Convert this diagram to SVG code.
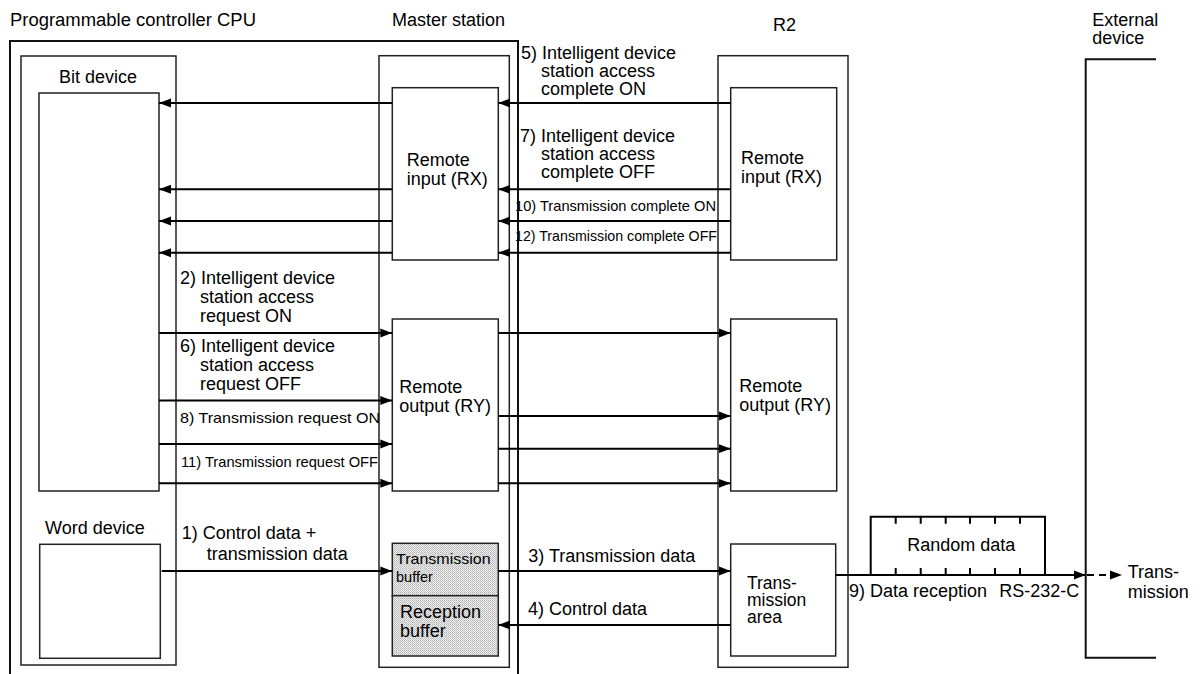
<svg xmlns="http://www.w3.org/2000/svg" width="1202" height="674" viewBox="0 0 1202 674">
<style>
.t{font-family:"Liberation Sans",Arial,sans-serif;font-size:18px;fill:#000}
.s{font-size:14.5px}
.m{font-size:17.5px}
.bx{fill:#fff;stroke:#222;stroke-width:1.5}
.ob{fill:none;stroke:#111;stroke-width:2}
.buf{fill:url(#dots);stroke:#222;stroke-width:1.5}
.c{stroke:#000;stroke-width:2;fill:none}
.ar{marker-end:url(#ah)}
</style>
<defs>
<marker id="ah" markerUnits="userSpaceOnUse" markerWidth="12" markerHeight="10" refX="12" refY="4.5" orient="auto" viewBox="0 0 12 9">
<path d="M0,0 L12,4.5 L0,9 Z" fill="#000"/>
</marker>
<pattern id="dots" width="2" height="2" patternUnits="userSpaceOnUse">
<rect width="2" height="2" fill="#eeeeee"/>
<rect width="1" height="1" fill="#b4b4b4"/>
<rect x="1" y="1" width="1" height="1" fill="#c6c6c6"/>
</pattern>
</defs>
<rect width="1202" height="674" fill="#fff"/>

<g id="cpu">
<path class="ob" d="M10,674 V41 H518 V674"/>
<text class="t" x="10" y="26" textLength="246" lengthAdjust="spacingAndGlyphs">Programmable controller CPU</text>
</g>

<g id="bit-device">
<rect class="bx" x="21" y="56" width="155" height="609"/>
<text class="t" x="59" y="83">Bit device</text>
<rect class="bx" x="39" y="93" width="120" height="398"/>
</g>

<g id="word-device">
<text class="t" x="45" y="534">Word device</text>
<rect class="bx" x="39.7" y="544.3" width="120.6" height="114"/>
</g>

<g id="master">
<text class="t" x="392" y="26">Master station</text>
<rect class="bx" x="379" y="55.7" width="130.3" height="611.6"/>
</g>

<g id="master-rx">
<rect class="bx" x="392.3" y="87.7" width="106" height="172.3"/>
<text class="t" x="406.7" y="165.5">Remote</text>
<text class="t" x="406.7" y="185">input (RX)</text>
</g>

<g id="master-ry">
<rect class="bx" x="392.3" y="319" width="106" height="172"/>
<text class="t" x="399.3" y="392.7">Remote</text>
<text class="t" x="399.3" y="411.7">output (RY)</text>
</g>

<g id="tx-buffer">
<rect class="buf" x="392.3" y="543.3" width="106" height="52.4"/>
<text class="t s" x="396" y="564.3" textLength="94.7" lengthAdjust="spacingAndGlyphs">Transmission</text>
<text class="t s" x="396" y="581.7">buffer</text>
</g>

<g id="rx-buffer">
<rect class="buf" x="392.3" y="595.7" width="106" height="60.3"/>
<text class="t" x="400" y="618.3">Reception</text>
<text class="t" x="400" y="637.3">buffer</text>
</g>

<g id="r2">
<text class="t" x="773" y="31">R2</text>
<rect class="bx" x="718" y="55.7" width="130" height="611.6"/>
</g>

<g id="r2-rx">
<rect class="bx" x="730.7" y="87.7" width="106" height="172.3"/>
<text class="t" x="741" y="164">Remote</text>
<text class="t" x="741" y="183.3">input (RX)</text>
</g>

<g id="r2-ry">
<rect class="bx" x="730.7" y="319" width="106" height="172"/>
<text class="t" x="739.3" y="391.7">Remote</text>
<text class="t" x="739.3" y="410.5">output (RY)</text>
</g>

<g id="r2-tx-area">
<rect class="bx" x="730.7" y="544" width="105" height="112"/>
<text class="t m" x="747" y="588.5">Trans-</text>
<text class="t m" x="747" y="605.8">mission</text>
<text class="t m" x="747" y="623">area</text>
</g>

<g id="external">
<text class="t" x="1092.3" y="26">External</text>
<text class="t" x="1092.3" y="44.3">device</text>
<path class="ob" d="M1156,59.3 H1085.7 V657.7 H1156"/>
</g>

<g id="random-data">
<path class="c" d="M870.7,575 V516.7 H1045 V575"/>
<path class="c" d="M895.7,516.7 v7 M920.7,516.7 v7 M945.7,516.7 v7 M970,516.7 v7 M995,516.7 v7 M1020,516.7 v7 M895.7,575 v-7 M920.7,575 v-7 M945.7,575 v-7 M970,575 v-7 M995,575 v-7 M1020,575 v-7"/>
<text class="t" x="907.3" y="550.7">Random data</text>
</g>

<g id="labels">
<text class="t" x="521" y="59">5) Intelligent device</text>
<text class="t" x="541" y="77">station access</text>
<text class="t" x="541" y="95">complete ON</text>
<text class="t" x="520" y="141.7">7) Intelligent device</text>
<text class="t" x="541" y="160">station access</text>
<text class="t" x="541" y="177.7">complete OFF</text>
<text class="t s" x="515" y="211" textLength="201" lengthAdjust="spacingAndGlyphs">10) Transmission complete ON</text>
<text class="t s" x="515" y="241" textLength="202" lengthAdjust="spacingAndGlyphs">12) Transmission complete OFF</text>
<text class="t" x="180" y="284.3">2) Intelligent device</text>
<text class="t" x="200" y="303.3">station access</text>
<text class="t" x="200" y="322.3">request ON</text>
<text class="t" x="180" y="352.3">6) Intelligent device</text>
<text class="t" x="200" y="371">station access</text>
<text class="t" x="200" y="390">request OFF</text>
<text class="t s" x="180" y="423.3" textLength="200" lengthAdjust="spacingAndGlyphs">8) Transmission request ON</text>
<text class="t s" x="181" y="466.7" textLength="197" lengthAdjust="spacingAndGlyphs">11) Transmission request OFF</text>
<text class="t" x="181.7" y="539.3">1) Control data +</text>
<text class="t" x="206.7" y="560">transmission data</text>
<text class="t" x="528.3" y="562.3">3) Transmission data</text>
<text class="t" x="528" y="615">4) Control data</text>
<text class="t" x="849" y="596.7">9) Data reception</text>
<text class="t" x="999.3" y="596.7">RS-232-C</text>
<text class="t" x="1127.7" y="578.3">Trans-</text>
<text class="t" x="1127.7" y="598.3">mission</text>
</g>

<g id="connectors">
<line class="c ar" x1="392.3" y1="103" x2="159" y2="103"/>
<line class="c ar" x1="392.3" y1="189.3" x2="159" y2="189.3"/>
<line class="c ar" x1="392.3" y1="221" x2="159" y2="221"/>
<line class="c ar" x1="392.3" y1="252.7" x2="159" y2="252.7"/>
<line class="c ar" x1="730.7" y1="103" x2="498.3" y2="103"/>
<line class="c ar" x1="730.7" y1="189.3" x2="498.3" y2="189.3"/>
<line class="c ar" x1="730.7" y1="221" x2="498.3" y2="221"/>
<line class="c ar" x1="730.7" y1="252.7" x2="498.3" y2="252.7"/>
<line class="c ar" x1="159" y1="333" x2="392.3" y2="333"/>
<line class="c ar" x1="159" y1="400.5" x2="392.3" y2="400.5"/>
<line class="c ar" x1="159" y1="444" x2="392.3" y2="444"/>
<line class="c ar" x1="159" y1="483.3" x2="392.3" y2="483.3"/>
<line class="c ar" x1="498.3" y1="333" x2="730.7" y2="333"/>
<line class="c ar" x1="498.3" y1="416" x2="730.7" y2="416"/>
<line class="c ar" x1="498.3" y1="448.7" x2="730.7" y2="448.7"/>
<line class="c ar" x1="498.3" y1="483.3" x2="730.7" y2="483.3"/>
<line class="c ar" x1="161.7" y1="571" x2="392.3" y2="571"/>
<line class="c ar" x1="498.3" y1="571" x2="730.7" y2="571"/>
<line class="c ar" x1="730.7" y1="625" x2="498.3" y2="625"/>
<line class="c ar" x1="835.7" y1="575" x2="1085.7" y2="575"/>
<line class="c ar" x1="1087" y1="575" x2="1122" y2="575" stroke-dasharray="7,5"/>
</g>
</svg>
